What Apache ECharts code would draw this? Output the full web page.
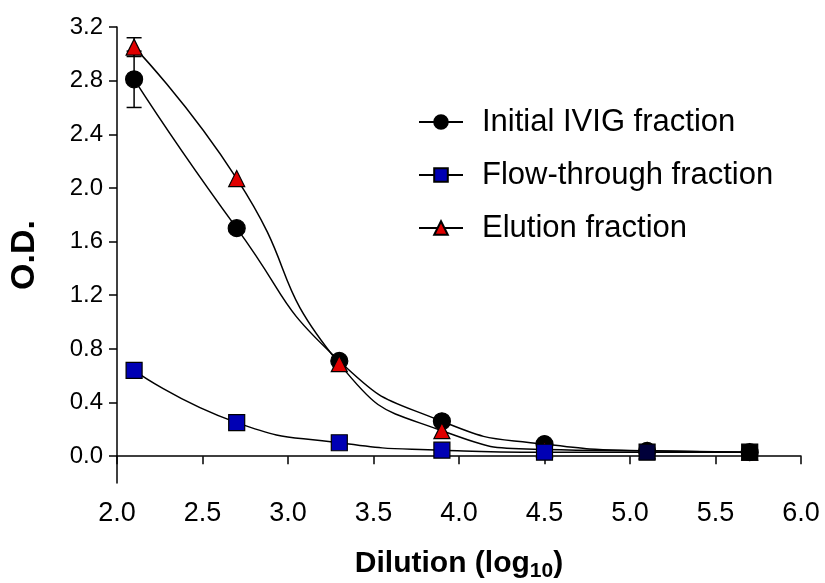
<!DOCTYPE html>
<html>
<head>
<meta charset="utf-8">
<script src="https://cdn.jsdelivr.net/npm/echarts@6/dist/echarts.min.js"></script>
<style>html,body{margin:0;padding:0;background:#fff;}#c{width:825px;height:583px;}</style>
</head>
<body>
<div id="c"></div>
<script>
const dilution = [2.1, 2.7, 3.3, 3.9, 4.5, 5.1, 5.7];
const initialIVIG = [2.81, 1.70, 0.71, 0.26, 0.09, 0.04, 0.03];
const flowThrough = [0.64, 0.25, 0.10, 0.045, 0.03, 0.03, 0.03];
const elution = [3.05, 2.07, 0.69, 0.19, 0.05, 0.04, 0.03];
const initialErr = [0.21, 0, 0, 0, 0, 0, 0];
const elutionErr = [0.07, 0, 0, 0, 0, 0, 0];
const yTicks = [0, 0.4, 0.8, 1.2, 1.6, 2.0, 2.4, 2.8, 3.2];
const seriesNames = ['Initial IVIG fraction', 'Flow-through fraction', 'Elution fraction'];

const FONT = 'Liberation Sans, Arial, sans-serif';
const pairs = arr => dilution.map((x, i) => [x, arr[i]]);
const errData = (vals, errs) => dilution.map((x, i) => [x, vals[i] - errs[i], vals[i] + errs[i], errs[i]]).filter(d => d[3] > 0);

const errSeries = (name, vals, errs) => ({
  type: 'custom',
  name: name + ' err',
  data: errData(vals, errs),
  z: 1,
  silent: true,
  renderItem: function (params, api) {
    const x = api.value(0);
    const lo = api.coord([x, api.value(1)]);
    const hi = api.coord([x, api.value(2)]);
    const w = 7.5;
    const st = { stroke: '#000', lineWidth: 1.5 };
    return {
      type: 'group',
      children: [
        { type: 'line', shape: { x1: lo[0], y1: lo[1], x2: hi[0], y2: hi[1] }, style: st },
        { type: 'line', shape: { x1: lo[0] - w, y1: lo[1], x2: lo[0] + w, y2: lo[1] }, style: st },
        { type: 'line', shape: { x1: hi[0] - w, y1: hi[1], x2: hi[0] + w, y2: hi[1] }, style: st }
      ]
    };
  }
});

const lineSeries = (name, data, symbol, size, color, z) => ({
  type: 'line',
  name: name,
  data: data,
  smooth: 0.55,
  symbol: symbol,
  symbolSize: size,
  showAllSymbol: true,
  z: z,
  lineStyle: { color: '#000', width: 1.5 },
  itemStyle: { color: color, borderColor: '#000', borderWidth: 1.2, opacity: 1 },
  emphasis: { disabled: true },
  animation: false
});

// overlapping markers at the plateau look dark in the reference
const flowData = pairs(flowThrough).map((p, i) => {
  if (i === dilution.length - 1) return { value: p, itemStyle: { color: '#000' } };
  if (i === dilution.length - 2) return { value: p, itemStyle: { color: '#00003a' } };
  return p;
});

const chart = echarts.init(document.getElementById('c'), null, { renderer: 'canvas' });
chart.setOption({
  animation: false,
  backgroundColor: '#fff',
  grid: { left: 117, right: 24, top: 27, bottom: 100, containLabel: false, outerBoundsMode: 'none' },
  legend: {
    left: 413,
    top: 99,
    orient: 'vertical',
    itemWidth: 44,
    itemHeight: 17,
    itemGap: 17,
    data: seriesNames,
    textStyle: { fontFamily: FONT, fontSize: 31, color: '#000', lineHeight: 36, padding: [0, 0, 0, 14] }
  },
  xAxis: {
    type: 'value',
    min: 2.0,
    max: 6.0,
    interval: 0.5,
    name: '{b|Dilution (log}{s|10}{b|)}',
    nameLocation: 'middle',
    nameGap: 64,
    nameTextStyle: {
      rich: {
        b: { fontFamily: FONT, fontWeight: 'bold', fontSize: 30, color: '#000', lineHeight: 34 },
        s: { fontFamily: FONT, fontWeight: 'bold', fontSize: 21, color: '#000', lineHeight: 34, padding: [14, 0, 0, 0] }
      }
    },
    axisLine: { show: true, lineStyle: { color: '#000', width: 1.5 } },
    axisTick: { show: true, length: 8, lineStyle: { color: '#000', width: 1.5 } },
    axisLabel: { color: '#000', fontFamily: FONT, fontSize: 27, margin: 17, formatter: v => v.toFixed(1) },
    splitLine: { show: false }
  },
  yAxis: {
    type: 'value',
    min: -0.2,
    max: 3.2,
    name: 'O.D.',
    nameLocation: 'middle',
    nameGap: 75,
    nameTextStyle: { fontFamily: FONT, fontWeight: 'bold', fontSize: 34, color: '#000' },
    axisLine: { show: true, lineStyle: { color: '#000', width: 1.5 } },
    axisTick: { show: true, length: 8, customValues: yTicks, lineStyle: { color: '#000', width: 1.5 } },
    axisLabel: { color: '#000', fontFamily: FONT, fontSize: 24, margin: 14, customValues: yTicks, formatter: v => v.toFixed(1) },
    splitLine: { show: false }
  },
  series: [
    errSeries(seriesNames[0], initialIVIG, initialErr),
    errSeries(seriesNames[2], elution, elutionErr),
    lineSeries(seriesNames[0], pairs(initialIVIG), 'circle', 17, '#000', 3),
    lineSeries(seriesNames[2], pairs(elution), 'triangle', 16, '#e00000', 4),
    lineSeries(seriesNames[1], flowData, 'rect', 16, '#0000b4', 5)
  ]
});
</script>
</body>
</html>
